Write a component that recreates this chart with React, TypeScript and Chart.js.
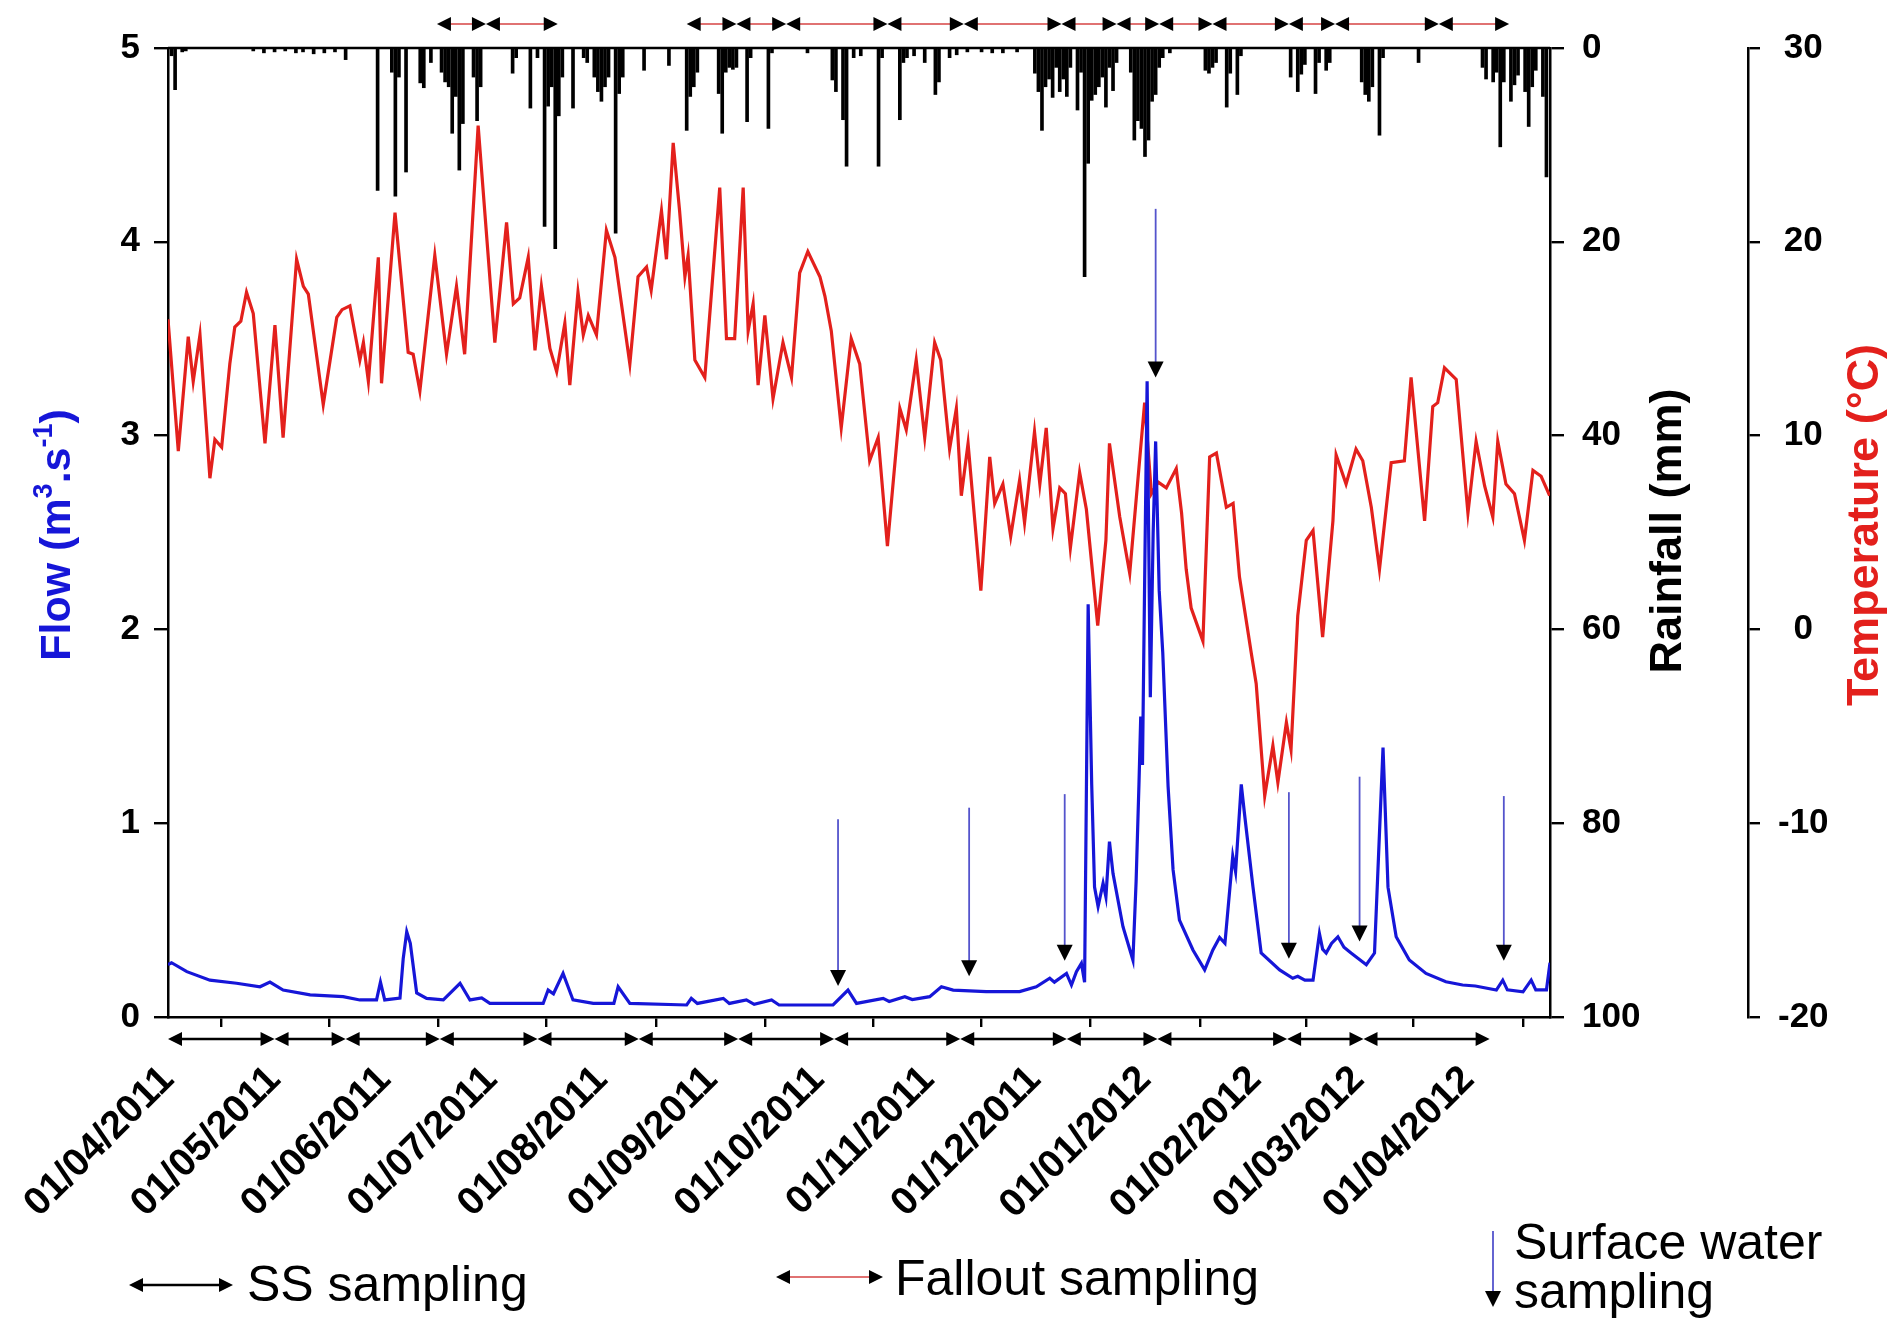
import React, { useEffect, useRef } from 'react';
import { Chart, registerables } from 'chart.js';

Chart.register(...registerables);

// ---------------- DATA ----------------
// x values are days since 01/04/2011
const monthTickDays = [0, 30, 61, 91, 122, 153, 183, 214, 244, 275, 306, 335, 366];
const monthTickLabels = [
  '01/04/2011', '01/05/2011', '01/06/2011', '01/07/2011', '01/08/2011', '01/09/2011',
  '01/10/2011', '01/11/2011', '01/12/2011', '01/01/2012', '01/02/2012', '01/03/2012', '01/04/2012',
];

// Air temperature (°C)
const temperatureSeries = [
  [0, 16.0], [2.9, 9.2], [5.7, 15.1], [7.1, 12.8], [9, 15.2], [11.8, 7.8], [13.2, 9.8], [15.1, 9.4],
  [17.4, 13.7], [18.8, 15.6], [20.5, 15.9], [22.1, 17.4], [24, 16.3], [27.3, 9.6], [30.1, 15.7],
  [32.4, 9.9], [36.2, 19.1], [38.1, 17.7], [39.5, 17.3], [43.7, 11.6], [47.5, 16.1], [49, 16.5],
  [51.2, 16.7], [53.1, 14.8], [54, 13.9], [55, 14.8], [56.4, 12.8], [59.2, 19.2], [60.1, 12.7],
  [63.9, 21.5], [67.6, 14.3], [69, 14.2], [70.9, 12.3], [75.1, 19.3], [78.4, 14.2], [81.2, 17.7],
  [83.5, 14.2], [87.3, 26.0], [92, 14.8], [95.3, 21.0], [97.2, 16.8], [99, 17.1], [101.4, 19.2],
  [103.3, 14.4], [105.1, 17.7], [107.5, 14.5], [109.4, 13.3], [111.7, 15.8], [113.1, 12.6],
  [115.4, 17.4], [116.9, 15.2], [118.3, 16.2], [120.6, 15.2], [123.4, 20.6], [125.8, 19.2],
  [130, 13.7], [132.3, 18.2], [134.7, 18.7], [136, 17.5], [138.9, 21.6], [140.3, 19.1], [142.2, 25.1],
  [144, 21.6], [145.5, 18.2], [146.4, 19.3], [148.3, 13.9], [151.1, 13.0], [155.3, 22.8], [157.2, 15.0],
  [159.5, 15.0], [161.9, 22.8], [163.3, 15.4], [164.7, 16.8], [166.1, 12.6], [168, 16.2], [170.3, 11.9],
  [173.1, 14.8], [175.5, 13.0], [177.8, 18.4], [180.1, 19.5], [183.5, 18.2], [184.9, 17.2], [186.7, 15.4],
  [189.5, 10.4], [192.3, 15.0], [194.7, 13.7], [197.5, 8.7], [199.9, 9.9], [202.5, 4.3], [206, 11.4],
  [207.8, 10.3], [210.6, 13.9], [213, 9.9], [215.8, 14.8], [217.5, 13.9], [220, 9.3], [221.9, 11.4],
  [223.3, 6.9], [225.2, 9.6], [228.8, 2.0], [231.3, 8.9], [232.7, 6.5], [235, 7.5], [237.2, 4.8],
  [239.7, 7.7], [241.1, 5.5], [243.9, 10.2], [245.4, 7.5], [247.2, 10.4], [249.1, 5.2], [251, 7.3],
  [252.6, 7.0], [254, 4.2], [256.6, 8.1], [258.5, 6.2], [261.7, 0.2], [264, 4.6], [265, 9.6],
  [267.9, 5.8], [270.7, 2.9], [274.9, 11.7], [276.8, 7.0], [278.7, 7.6], [281, 7.3], [283.8, 8.3],
  [285.3, 6.0], [286.6, 3.1], [288, 1.1], [291.3, -0.6], [293.2, 8.9], [295.1, 9.1], [297.9, 6.3],
  [299.8, 6.5], [301.6, 2.7], [304.9, -1.2], [306.3, -2.8], [308.7, -8.6], [311, -6.0], [312.4, -7.9],
  [314.8, -4.8], [316.1, -6.2], [318, 0.7], [320.4, 4.6], [322.3, 5.1], [325, -0.4], [327.9, 5.6],
  [328.8, 9.0], [331.6, 7.5], [334.4, 9.3], [336.3, 8.7], [338.7, 6.3], [341, 3.1], [344.3, 8.6],
  [348, 8.7], [349.9, 13.0], [353.7, 5.6], [356, 11.5], [357.4, 11.7], [359.3, 13.5], [362.6, 12.9],
  [365.9, 6.0], [368.2, 9.7], [370.6, 7.4], [372.9, 5.8], [374.3, 9.7], [376.6, 7.5], [379, 7.0],
  [381.8, 4.6], [384.2, 8.2], [386.5, 7.9], [388.9, 6.9],
];

// Flow (m3/s)
const flowSeries = [
  [0, 0.27], [1, 0.28], [5.3, 0.234], [11.8, 0.19], [19.3, 0.174], [25.9, 0.156], [28.7, 0.18],
  [32.4, 0.139], [40, 0.114], [49.3, 0.105], [54, 0.088], [58.7, 0.088], [59.8, 0.18], [61, 0.088],
  [65.3, 0.098], [66.2, 0.3], [67.2, 0.44], [68.2, 0.38], [70, 0.124], [72.8, 0.096], [77.5, 0.088],
  [82.2, 0.174], [85, 0.088], [88.3, 0.098], [90.6, 0.07], [105.6, 0.07], [107, 0.139], [108.5, 0.12],
  [111.2, 0.225], [114, 0.088], [119.7, 0.07], [125.5, 0.07], [126.7, 0.156], [130, 0.07], [146, 0.062],
  [147.3, 0.096], [149, 0.07], [156.3, 0.096], [158, 0.07], [162.8, 0.088], [165, 0.065], [169.9, 0.088],
  [172, 0.062], [187.2, 0.062], [191.4, 0.139], [193.8, 0.07], [201.3, 0.096], [203, 0.08],
  [207.4, 0.105], [209.5, 0.09], [214.4, 0.105], [217.7, 0.156], [221, 0.139], [230.3, 0.131],
  [239.7, 0.131], [244.4, 0.156], [248.2, 0.2], [249.5, 0.18], [252.9, 0.225], [254.3, 0.165],
  [255.7, 0.234], [257.1, 0.277], [258, 0.18], [259, 2.13], [260, 1.2], [260.8, 0.67], [261.8, 0.57],
  [263.2, 0.69], [264, 0.62], [265, 0.905], [266, 0.74], [268.8, 0.466], [271.6, 0.294], [272.5, 0.7],
  [273.3, 1.2], [273.8, 1.55], [274.3, 1.3], [275, 2.4], [275.6, 3.28], [276.5, 1.65], [277.3, 2.5],
  [278, 2.97], [279, 2.2], [280, 1.88], [281.5, 1.19], [282.9, 0.76], [284.7, 0.5], [288.5, 0.346],
  [291.8, 0.243], [294.1, 0.346], [296, 0.41], [297.5, 0.38], [299.7, 0.83], [300.5, 0.75], [302.1, 1.2],
  [303, 1.05], [305.4, 0.67], [307.7, 0.33], [312.9, 0.243], [316.6, 0.2], [318, 0.21], [320, 0.19],
  [322.3, 0.19], [324.1, 0.43], [325, 0.35], [326, 0.33], [327.5, 0.38], [329.3, 0.414], [331, 0.36],
  [333, 0.33], [337.3, 0.27], [339.6, 0.33], [342, 1.39], [343.4, 0.67], [345.7, 0.414], [349.4, 0.294],
  [354.1, 0.225], [359.7, 0.182], [364.4, 0.165], [368, 0.16], [373.9, 0.139], [375.7, 0.19], [377, 0.14],
  [381.4, 0.13], [383.7, 0.19], [385, 0.14], [388, 0.14], [389, 0.28],
];

// Daily rainfall (mm), days with rain only
const rainfallSeries = [
  [1, 0.8], [2, 4.3], [4, 0.4], [5, 0.3], [24, 0.3], [27, 0.5], [30, 0.4], [33, 0.3], [36, 0.5], [38, 0.4],
  [41, 0.6], [44, 0.5], [47, 0.4], [50, 1.2], [59, 14.7], [63, 2.5], [64, 15.3], [65, 3.0], [67, 12.8],
  [71, 3.6], [72, 4.1], [74, 1.5], [77, 2.5], [78, 3.5], [79, 4.0], [80, 8.8], [81, 5.0], [82, 12.6],
  [83, 7.8], [86, 3.0], [87, 7.5], [88, 4.0], [97, 2.6], [98, 1.0], [102, 6.2], [104, 1.0], [106, 18.4],
  [107, 6.0], [108, 4.0], [109, 20.7], [110, 7.0], [111, 3.0], [114, 6.2], [117, 1.0], [118, 1.5],
  [120, 3.0], [121, 4.5], [122, 5.5], [123, 4.0], [124, 3.0], [126, 19.1], [127, 4.7], [128, 3.0],
  [134, 2.3], [141, 1.8], [146, 8.5], [147, 5.0], [148, 4.0], [149, 2.5], [155, 4.7], [156, 8.8],
  [157, 2.5], [158, 2.0], [159, 2.2], [160, 2.0], [163, 7.6], [164, 1.0], [169, 8.3], [170, 0.5],
  [180, 0.5], [187, 3.3], [188, 4.5], [190, 7.4], [191, 12.2], [193, 1.0], [195, 0.8], [200, 12.2],
  [201, 1.0], [206, 7.4], [207, 1.5], [208, 1.0], [210, 0.8], [213, 1.5], [216, 4.8], [217, 3.5],
  [220, 1.0], [222, 0.7], [225, 0.4], [229, 0.4], [232, 0.5], [235, 0.5], [239, 0.4], [244, 2.6],
  [245, 4.5], [246, 8.5], [247, 4.0], [248, 3.2], [249, 5.1], [250, 2.0], [251, 4.5], [252, 3.2],
  [253, 5.0], [254, 2.0], [256, 6.4], [257, 2.5], [258, 23.6], [259, 11.9], [260, 5.4], [261, 4.8],
  [262, 4.0], [263, 3.0], [264, 6.1], [265, 2.0], [266, 4.4], [267, 1.5], [271, 2.5], [272, 9.5],
  [273, 7.5], [274, 8.3], [275, 11.2], [276, 9.5], [277, 5.5], [278, 4.8], [279, 2.0], [280, 1.0],
  [282, 0.5], [292, 2.3], [293, 2.6], [294, 2.0], [295, 1.5], [298, 6.1], [299, 2.6], [301, 4.8],
  [302, 0.8], [316, 3.0], [318, 4.5], [319, 2.7], [320, 1.7], [323, 4.7], [324, 1.5], [326, 2.3],
  [327, 1.5], [336, 3.5], [337, 4.8], [338, 5.5], [339, 4.0], [341, 9.0], [342, 1.0], [352, 1.5],
  [370, 2.0], [371, 3.2], [373, 3.5], [374, 2.5], [375, 10.2], [376, 3.5], [378, 5.5], [379, 3.8],
  [380, 2.8], [382, 4.5], [383, 8.1], [384, 4.0], [385, 2.3], [387, 5.0], [388, 13.3],
];

// Surface water sampling arrows (day, arrow top and tip in flow units)
const surfaceWaterDays = [188.6, 225.5, 252.4, 278, 315.5, 335.4, 376];
const surfaceWaterTop = [1.02, 1.08, 1.15, 4.17, 1.16, 1.24, 1.14];
const surfaceWaterTip = [0.16, 0.21, 0.29, 3.3, 0.3, 0.39, 0.29];

// SS sampling periods (boundaries, days)
const ssSamplingDays = [0, 30, 50, 76.5, 104, 132.5, 160.5, 187.5, 223, 253, 278.5, 315, 336.5, 372];
// Fallout sampling periods (boundaries, days)
const falloutPeriodsA = [75.7, 89.5, 109.7];
const falloutPeriodsB = [146, 160, 174, 202.5, 224, 251.5, 267, 279, 294, 315.5, 328.5, 357.7, 377.5];

// ---------------- STYLE ----------------
const FONT = "'Liberation Sans', Arial, Helvetica, sans-serif";
const FLOW_BLUE = '#1616d8';
const TEMP_RED = '#e3201c';
const ARROW_BLUE = '#5454cc';
const FALLOUT_PINK = '#e07272';

function drawHead(ctx: any, tipX: number, tipY: number, dir: string, L: number, H: number) {
  ctx.beginPath();
  if (dir === 'left') {
    ctx.moveTo(tipX, tipY); ctx.lineTo(tipX + L, tipY - H); ctx.lineTo(tipX + L, tipY + H);
  } else if (dir === 'right') {
    ctx.moveTo(tipX, tipY); ctx.lineTo(tipX - L, tipY - H); ctx.lineTo(tipX - L, tipY + H);
  } else {
    ctx.moveTo(tipX, tipY); ctx.lineTo(tipX - H, tipY - L); ctx.lineTo(tipX + H, tipY - L);
  }
  ctx.closePath();
  ctx.fill();
}

function drawDoubleArrow(ctx: any, x1: number, x2: number, y: number, lineColor: string, lw: number) {
  ctx.strokeStyle = lineColor;
  ctx.lineWidth = lw;
  ctx.beginPath(); ctx.moveTo(x1 + 4, y); ctx.lineTo(x2 - 4, y); ctx.stroke();
  ctx.fillStyle = '#000';
  drawHead(ctx, x1, y, 'left', 14, 7);
  drawHead(ctx, x2, y, 'right', 14, 7);
}

function drawRotatedRich(ctx: any, pieces: any[], cx: number, cy: number, color: string) {
  ctx.save();
  ctx.translate(cx, cy);
  ctx.rotate(-Math.PI / 2);
  ctx.fillStyle = color;
  ctx.textAlign = 'left';
  ctx.textBaseline = 'alphabetic';
  const widths = pieces.map((p) => { ctx.font = p.font; return ctx.measureText(p.text).width; });
  const total = widths.reduce((a, b) => a + b, 0);
  let x = -total / 2;
  pieces.forEach((p, i) => { ctx.font = p.font; ctx.fillText(p.text, x, p.dy); x += widths[i]; });
  ctx.restore();
}

const annotationPlugin = {
  id: 'annotations',
  afterDraw(chart: any) {
    const ctx = chart.ctx;
    const xs = chart.scales.x;
    const yf = chart.scales.yFlow;
    const area = chart.chartArea;
    ctx.save();

    // top frame line
    ctx.strokeStyle = '#000';
    ctx.lineWidth = 2.5;
    ctx.beginPath(); ctx.moveTo(area.left, area.top); ctx.lineTo(area.right, area.top); ctx.stroke();

    // surface water sampling arrows
    surfaceWaterDays.forEach((d, i) => {
      const px = xs.getPixelForValue(d);
      const yTop = yf.getPixelForValue(surfaceWaterTop[i]);
      const yTip = yf.getPixelForValue(surfaceWaterTip[i]);
      ctx.strokeStyle = ARROW_BLUE;
      ctx.lineWidth = 1.8;
      ctx.beginPath(); ctx.moveTo(px, yTop); ctx.lineTo(px, yTip - 12); ctx.stroke();
      ctx.fillStyle = '#000';
      drawHead(ctx, px, yTip, 'down', 16, 8);
    });

    // sampling period rows
    const row = (days: number[], y: number, color: string, lw: number) => {
      for (let i = 0; i < days.length - 1; i++) {
        drawDoubleArrow(ctx, xs.getPixelForValue(days[i]), xs.getPixelForValue(days[i + 1]), y, color, lw);
      }
    };
    row(ssSamplingDays, area.bottom + 22, '#000', 2.4);
    row(falloutPeriodsA, area.top - 24, FALLOUT_PINK, 1.8);
    row(falloutPeriodsB, area.top - 24, FALLOUT_PINK, 1.8);

    // axis titles
    const big = `bold 45px ${FONT}`;
    const flowBig = `bold 43px ${FONT}`;
    const sup = `bold 27px ${FONT}`;
    drawRotatedRich(ctx, [
      { text: 'Flow (m', font: flowBig, dy: 16 },
      { text: '3', font: sup, dy: -2 },
      { text: '.s', font: flowBig, dy: 16 },
      { text: '-1', font: sup, dy: -2 },
      { text: ')', font: flowBig, dy: 16 },
    ], 54, 535, FLOW_BLUE);
    drawRotatedRich(ctx, [{ text: 'Rainfall (mm)', font: big, dy: 16 }], 1665, 531, '#000');
    drawRotatedRich(ctx, [{ text: 'Temperature (°C)', font: big, dy: 16 }], 1862, 525, TEMP_RED);

    // legend
    ctx.font = `50px ${FONT}`;
    ctx.textAlign = 'left';
    ctx.textBaseline = 'alphabetic';
    drawDoubleArrow(ctx, 129, 233, 1285, '#000', 2.4);
    ctx.fillStyle = '#000';
    ctx.fillText('SS sampling', 247, 1301);
    drawDoubleArrow(ctx, 776, 883, 1277, FALLOUT_PINK, 1.8);
    ctx.fillStyle = '#000';
    ctx.font = `50px ${FONT}`;
    ctx.fillText('Fallout sampling', 895, 1295);
    ctx.strokeStyle = ARROW_BLUE;
    ctx.lineWidth = 1.8;
    ctx.beginPath(); ctx.moveTo(1493, 1231); ctx.lineTo(1493, 1295); ctx.stroke();
    ctx.fillStyle = '#000';
    drawHead(ctx, 1493, 1307, 'down', 16, 8);
    ctx.font = `50px ${FONT}`;
    ctx.fillText('Surface water', 1514, 1259);
    ctx.fillText('sampling', 1514, 1308);

    ctx.restore();
  },
};

export default function App() {
  const canvasRef = useRef<HTMLCanvasElement | null>(null);

  useEffect(() => {
    const canvas = canvasRef.current;
    if (!canvas) return;
    const tickFont = { family: FONT, size: 35, weight: 'bold' };
    const dateFont = { family: FONT, size: 39, weight: 'bold' };
    const axisGrid = (len: number) => ({
      display: true, drawOnChartArea: false, drawTicks: true, tickLength: len, color: '#000', lineWidth: 2.4,
    });
    const axisBorder = { display: true, color: '#000', width: 2.5 };

    const chart = new Chart(canvas, {
      type: 'line',
      data: {
        datasets: [
          {
            type: 'line', label: 'Flow', yAxisID: 'yFlow', order: 0,
            data: flowSeries.map(([x, y]) => ({ x, y })),
            borderColor: FLOW_BLUE, borderWidth: 3.2, pointRadius: 0, tension: 0, fill: false,
          },
          {
            type: 'line', label: 'Temperature', yAxisID: 'yTemp', order: 1,
            data: temperatureSeries.map(([x, y]) => ({ x, y })),
            borderColor: TEMP_RED, borderWidth: 3.2, pointRadius: 0, tension: 0, fill: false,
          },
          {
            type: 'bar', label: 'Rainfall', yAxisID: 'yRain', order: 2,
            data: rainfallSeries.map(([x, y]) => ({ x, y })),
            backgroundColor: '#000', borderWidth: 0, barThickness: 3, grouped: false,
          },
        ],
      } as any,
      options: {
        animation: false,
        responsive: false,
        devicePixelRatio: 1,
        events: [],
        layout: { padding: { top: 48, left: 0, right: 0, bottom: 0 } },
        plugins: { legend: { display: false }, tooltip: { enabled: false } },
        scales: {
          x: {
            type: 'linear', position: 'bottom', min: 0, max: 389, offset: false,
            afterBuildTicks: (scale: any) => { scale.ticks = monthTickDays.map((v) => ({ value: v })); },
            afterFit: (scale: any) => { scale.height = 305; },
            grid: axisGrid(10),
            border: axisBorder,
            ticks: {
              autoSkip: false, minRotation: 45, maxRotation: 45, padding: 30, color: '#000', font: dateFont,
              callback: (v: any) => {
                const i = monthTickDays.indexOf(Number(v));
                return i >= 0 ? monthTickLabels[i] : '';
              },
            },
          },
          yFlow: {
            type: 'linear', position: 'left', min: 0, max: 5,
            afterFit: (scale: any) => { scale.width = 168; },
            grid: axisGrid(14), border: axisBorder,
            ticks: { stepSize: 1, padding: 14, color: '#000', font: tickFont },
          },
          yRain: {
            type: 'linear', position: 'right', min: 0, max: 100, reverse: true,
            afterFit: (scale: any) => { scale.width = 198; },
            grid: axisGrid(14), border: axisBorder,
            ticks: { stepSize: 20, padding: 18, color: '#000', font: tickFont },
          },
          yTemp: {
            type: 'linear', position: 'right', min: -20, max: 30,
            afterFit: (scale: any) => { scale.width = 144; },
            grid: axisGrid(12), border: axisBorder,
            ticks: { stepSize: 10, padding: 18, crossAlign: 'center', color: '#000', font: tickFont },
          },
        },
      } as any,
      plugins: [annotationPlugin],
    });
    return () => chart.destroy();
  }, []);

  return (
    <div style={{ position: 'absolute', left: 0, top: 0, width: 1892, height: 1322, background: '#fff' }}>
      <canvas ref={canvasRef} width={1892} height={1322} style={{ display: 'block', width: 1892, height: 1322 }} />
    </div>
  );
}
